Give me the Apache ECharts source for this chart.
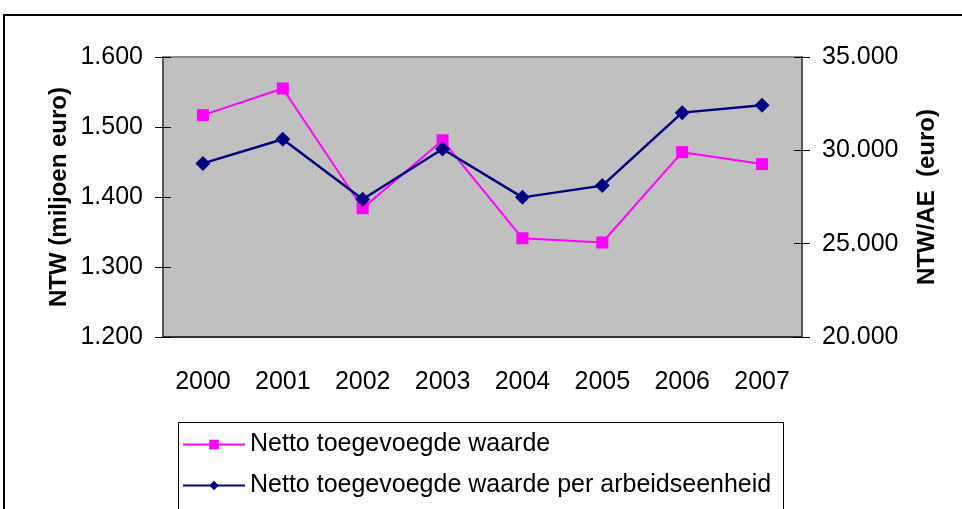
<!DOCTYPE html>
<html>
<head>
<meta charset="utf-8">
<script src="https://cdn.jsdelivr.net/npm/echarts@6/dist/echarts.min.js"></script>
<style>
  html, body { margin: 0; padding: 0; background: #fff; }
  #chart { width: 962px; height: 509px; }
</style>
</head>
<body>
<div id="chart"></div>
<script>
// jaren en waarden
const years = ['2000', '2001', '2002', '2003', '2004', '2005', '2006', '2007'];
const ntw = [1.517, 1.555, 1.384, 1.481, 1.341, 1.335, 1.464, 1.447];          // miljoen euro
const ntwPerAE = [29300, 30590, 27380, 30070, 27480, 28110, 32020, 32410];      // euro

const FONT = '"Liberation Sans", Arial, sans-serif';
const chart = echarts.init(document.getElementById('chart'));

// 35000 -> "35.000"
const dotThousands = v => String(v).replace(/\B(?=(\d{3})+(?!\d))/g, '.');

const yBase = {
  type: 'value',
  splitLine: { show: false },
  axisLine: { show: true, lineStyle: { color: '#555', width: 2 } },
  axisTick: { show: true, length: 8, lineStyle: { color: '#000', width: 1 } },
  axisLabel: { fontFamily: FONT, fontSize: 25, color: '#000', margin: 20 },
  nameLocation: 'middle',
  nameRotate: 90,
  nameMoveOverlap: false,
  nameTextStyle: { fontFamily: FONT, fontSize: 24, fontWeight: 'bold', color: '#000' }
};

const option = {
  animation: false,
  backgroundColor: '#fff',
  grid: {
    left: 163, right: 160, top: 57, bottom: 172,
    show: true,
    backgroundColor: '#C0C0C0',
    borderColor: '#8a8a8a',
    borderWidth: 2
  },
  legend: {
    orient: 'vertical',
    left: 177,
    top: 427,
    itemWidth: 62,
    itemHeight: 12,
    itemGap: 16,
    textStyle: { fontFamily: FONT, fontSize: 25, color: '#000' },
    data: ['Netto toegevoegde waarde', 'Netto toegevoegde waarde per arbeidseenheid']
  },
  xAxis: [
    {
      type: 'category',
      data: years,
      boundaryGap: true,
      axisLine: { lineStyle: { color: '#333', width: 2 } },
      axisTick: { length: 8, lineStyle: { color: '#666', width: 2 } },
      axisLabel: { fontFamily: FONT, fontSize: 25, color: '#000', margin: 33 }
    },
    {
      // kruisende maatstreepjes (binnenkant)
      type: 'category',
      data: years,
      position: 'bottom',
      boundaryGap: true,
      axisLine: { show: false },
      axisTick: { inside: true, length: 8, lineStyle: { color: '#666', width: 2 } },
      axisLabel: { show: false }
    }
  ],
  yAxis: [
    Object.assign({}, yBase, {
      position: 'left',
      min: 1.2, max: 1.6, interval: 0.1,
      name: 'NTW (miljoen euro)',
      nameGap: 92,
      axisLabel: Object.assign({}, yBase.axisLabel, { formatter: v => v.toFixed(3) })
    }),
    Object.assign({}, yBase, {
      position: 'right',
      min: 20000, max: 35000, interval: 5000,
      name: 'NTW/AE  (euro)',
      nameGap: 113,
      axisLabel: Object.assign({}, yBase.axisLabel, { formatter: dotThousands })
    }),
    {
      type: 'value', position: 'left', min: 1.2, max: 1.6, interval: 0.1,
      splitLine: { show: false }, axisLine: { show: false }, axisLabel: { show: false },
      axisTick: { show: true, inside: true, length: 8, lineStyle: { color: '#000' } }
    },
    {
      type: 'value', position: 'right', min: 20000, max: 35000, interval: 5000,
      splitLine: { show: false }, axisLine: { show: false }, axisLabel: { show: false },
      axisTick: { show: true, inside: true, length: 8, lineStyle: { color: '#000' } }
    }
  ],
  series: [
    {
      name: 'Netto toegevoegde waarde',
      type: 'line',
      data: ntw,
      yAxisIndex: 0,
      symbol: 'rect',
      symbolSize: 12,
      lineStyle: { color: '#FF00FF', width: 2 },
      itemStyle: { color: '#FF00FF' }
    },
    {
      name: 'Netto toegevoegde waarde per arbeidseenheid',
      type: 'line',
      data: ntwPerAE,
      yAxisIndex: 1,
      symbol: 'diamond',
      symbolSize: 15,
      lineStyle: { color: '#000080', width: 2.5 },
      itemStyle: { color: '#000080' }
    }
  ],
  graphic: [
    {
      type: 'rect', silent: true,
      shape: { x: 4, y: 15, width: 1000, height: 600 },
      style: { fill: 'none', stroke: '#000', lineWidth: 2 }
    },
    {
      type: 'rect', silent: true,
      shape: { x: 178.5, y: 422.5, width: 605, height: 200 },
      style: { fill: 'none', stroke: '#000', lineWidth: 1 }
    }
  ]
};

chart.setOption(option);
</script>
</body>
</html>
